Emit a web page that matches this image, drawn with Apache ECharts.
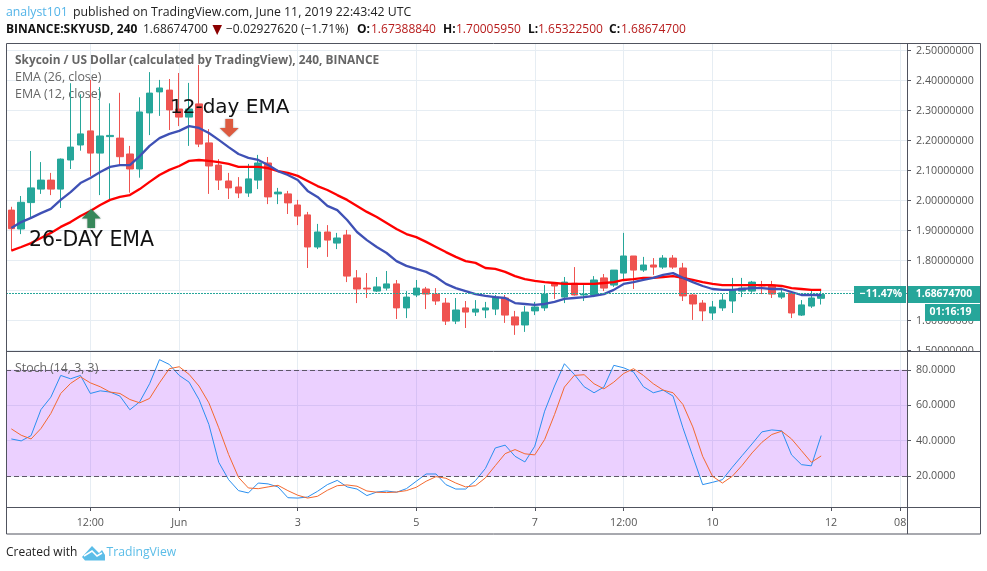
<!DOCTYPE html>
<html>
<head>
<meta charset="utf-8">
<title>SKYUSD</title>
<script src="https://cdn.jsdelivr.net/npm/echarts@6/dist/echarts.min.js"></script>
<style>
  html, body { margin: 0; padding: 0; background: #fff; }
  #chart { width: 987px; height: 571px; }
</style>
</head>
<body>
<div id="chart"></div>
<script>
// values, one entry per 4h bar
const opens = [1.968,1.905,1.993,2.038,2.068,2.038,2.135,2.185,2.232,2.158,2.213,2.208,2.155,2.105,2.292,2.362,2.368,2.305,2.278,2.322,2.192,2.118,2.065,2.045,2.025,2.068,2.125,2.022,2.022,1.985,1.952,1.845,1.895,1.858,1.885,1.742,1.708,1.698,1.708,1.722,1.642,1.685,1.705,1.688,1.658,1.598,1.642,1.628,1.635,1.638,1.675,1.612,1.585,1.632,1.642,1.724,1.678,1.724,1.685,1.685,1.742,1.718,1.758,1.815,1.768,1.785,1.778,1.808,1.775,1.685,1.658,1.625,1.642,1.665,1.698,1.698,1.72,1.718,1.678,1.692,1.618,1.648,1.6739];
const closes = [1.906,1.994,2.042,2.068,2.038,2.138,2.178,2.222,2.158,2.215,2.217,2.146,2.105,2.295,2.358,2.375,2.302,2.278,2.305,2.188,2.115,2.068,2.042,2.025,2.072,2.125,2.012,2.028,1.992,1.948,1.845,1.895,1.868,1.875,1.748,1.705,1.705,1.712,1.722,1.642,1.678,1.708,1.688,1.665,1.598,1.635,1.628,1.638,1.642,1.678,1.618,1.585,1.628,1.645,1.688,1.715,1.728,1.685,1.688,1.735,1.708,1.768,1.815,1.768,1.785,1.778,1.808,1.778,1.682,1.655,1.632,1.645,1.668,1.702,1.708,1.728,1.715,1.688,1.692,1.625,1.652,1.675,1.6867];
const lows = [1.833,1.888,1.941,2.022,2.018,1.975,2.105,2.166,2.082,2.018,1.998,2.118,2.026,2.076,2.218,2.282,2.235,2.248,2.182,2.178,2.022,2.035,2.005,2.008,2.012,2.038,1.988,1.988,1.955,1.918,1.775,1.838,1.812,1.838,1.728,1.658,1.675,1.695,1.7,1.605,1.608,1.678,1.638,1.652,1.585,1.588,1.575,1.615,1.608,1.618,1.592,1.552,1.562,1.618,1.632,1.672,1.658,1.683,1.665,1.678,1.698,1.712,1.735,1.705,1.762,1.752,1.772,1.772,1.665,1.602,1.598,1.602,1.632,1.625,1.678,1.692,1.688,1.675,1.672,1.608,1.615,1.642,1.6532];
const highs = [1.979,2.015,2.165,2.128,2.092,2.14,2.391,2.354,2.402,2.378,2.324,2.359,2.182,2.344,2.428,2.402,2.405,2.425,2.392,2.452,2.238,2.138,2.092,2.078,2.122,2.152,2.145,2.042,2.032,2.002,1.962,1.922,1.918,1.892,1.902,1.768,1.758,1.745,1.765,1.735,1.698,1.735,1.712,1.708,1.675,1.675,1.665,1.668,1.662,1.685,1.685,1.632,1.648,1.662,1.718,1.728,1.745,1.778,1.718,1.748,1.755,1.768,1.892,1.815,1.812,1.808,1.818,1.818,1.792,1.688,1.668,1.665,1.688,1.742,1.742,1.732,1.732,1.732,1.702,1.698,1.668,1.705,1.7001];

const ema12 = [1.908,1.928,1.942,1.958,1.972,2.002,2.028,2.058,2.075,2.095,2.112,2.118,2.118,2.148,2.182,2.208,2.222,2.232,2.248,2.242,2.225,2.202,2.178,2.155,2.142,2.135,2.118,2.098,2.085,2.068,2.032,2.012,1.982,1.968,1.935,1.895,1.868,1.845,1.825,1.798,1.782,1.772,1.762,1.745,1.722,1.708,1.698,1.688,1.682,1.678,1.675,1.658,1.655,1.652,1.655,1.662,1.672,1.675,1.678,1.682,1.688,1.702,1.722,1.728,1.735,1.742,1.752,1.758,1.742,1.728,1.715,1.705,1.702,1.702,1.705,1.708,1.708,1.705,1.705,1.695,1.685,1.685,1.685];
const ema26 = [1.833,1.845,1.858,1.875,1.892,1.912,1.928,1.948,1.965,1.985,2.002,2.012,2.018,2.038,2.062,2.085,2.102,2.115,2.132,2.135,2.132,2.128,2.122,2.112,2.112,2.112,2.108,2.098,2.092,2.082,2.065,2.048,2.035,2.018,2.002,1.982,1.962,1.945,1.925,1.905,1.888,1.878,1.862,1.845,1.828,1.812,1.798,1.792,1.775,1.772,1.762,1.748,1.738,1.732,1.728,1.725,1.722,1.722,1.722,1.722,1.725,1.728,1.735,1.738,1.742,1.742,1.745,1.748,1.742,1.735,1.728,1.722,1.718,1.718,1.718,1.718,1.718,1.718,1.715,1.708,1.705,1.702,1.702];

const stochK = [40.9,39.8,42.8,57.5,64.5,76.8,74.9,76.8,66.6,68.1,67.4,65.1,57.4,61.9,72.1,85.7,83,76.8,73,63.2,49.1,27.7,17.9,11.7,10.4,16,15.5,13.8,7.7,7.5,8.1,11.3,15.1,17.5,13.8,12.6,8.9,10.9,11.5,10.8,12.8,17,21.1,21.1,15.1,12.6,12.6,17.4,24.2,35.8,37.4,31.1,27.9,36.8,56.6,70.8,83.4,77.4,70.4,67,70.2,82.5,81.1,78.7,70.4,67,68.5,65.1,47.2,31.1,15.1,16.4,17.9,24.9,31.5,38.1,44.9,46,45.5,31.9,26.4,25.7,42.8];
const stochD = [46.6,43,40.9,46.8,55.3,66.6,72.3,76,72.6,70.4,67.4,66.6,63.2,61.3,63.8,72.6,80.6,81.7,77.4,70.8,61.3,47.2,32.1,19.2,13.2,12.8,13.8,14.7,11.7,9.1,7.5,8.5,11.9,14.5,14.9,14.2,11.5,10.8,10.6,10.9,11.7,13.6,17,19.6,18.7,16,13.8,14.5,18.9,25.8,32.6,34.9,32.5,31.9,40.6,54.7,70.2,76.8,77.2,72.1,69.2,73,77.9,80.6,76.8,72.1,68.5,67,60.4,47.7,31.1,19.8,16,19.8,26,33,39,43.4,45.3,40.9,34.3,27.7,31.3];

const lastPrice = 1.686747;
const priceTicks = [1.5,1.6,1.7,1.8,1.9,2.0,2.1,2.2,2.3,2.4,2.5];
const stochTicks = [20,40,60,80];
const timeTicks = [8,17,29,41,53,62,71,83,90];
const timeLabels = ['12:00','Jun','3','5','7','12:00','10','12','08'];

const candles = opens.map((o, i) => [i, o, closes[i], lows[i], highs[i]]);
const withIndex = arr => arr.map((v, i) => [i, v]);

const upColor = '#26a69a';
const downColor = '#ef5350';
const gridColor = '#e6edf3';
const frameColor = '#50535e';
const labelColor = '#555';
const ohlcColor = '#b71c1c';
const uiFont = '"Open Sans", "Noto Sans", sans-serif';

let chart = echarts.init(document.getElementById('chart'));

function txt(x, y, text, size, color, extra) {
  return {
    type: 'text', x: x, y: y, z: (extra && extra.z) || 60, silent: true,
    style: Object.assign({
      text: text, fontSize: size, fontFamily: uiFont, fill: color, textVerticalAlign: 'middle'
    }, extra)
  };
}
function box(x, y, w, h, color, z) {
  return { type: 'rect', z: z || 55, silent: true, shape: { x: x, y: y, width: w, height: h }, style: { fill: color } };
}
function rule(x1, y1, x2, y2) {
  return { type: 'line', z: 70, silent: true, shape: { x1: x1, y1: y1, x2: x2, y2: y2 }, style: { stroke: frameColor, lineWidth: 1 } };
}

let option = {
  animation: false,
  backgroundColor: '#fff',
  grid: [
    { left: 6.5, right: 80, top: 43, height: 308 },
    { left: 6.5, right: 80, top: 351, height: 156 }
  ],
  xAxis: [
    {
      type: 'value', gridIndex: 0, min: -0.49, max: 90.69,
      axisLine: { show: false, onZero: false },
      axisTick: { show: false, customValues: timeTicks },
      axisLabel: { show: false, customValues: timeTicks },
      splitLine: { show: true, lineStyle: { color: gridColor, width: 1 } }
    },
    {
      type: 'value', gridIndex: 1, min: -0.49, max: 90.69,
      axisLine: { show: false, onZero: false },
      axisTick: { show: true, length: 4, inside: false, customValues: timeTicks, lineStyle: { color: frameColor } },
      axisLabel: {
        show: true, customValues: timeTicks, margin: 10, color: labelColor, fontSize: 10.7, fontFamily: uiFont,
        showMinLabel: true, showMaxLabel: true, hideOverlap: false,
        formatter: v => timeLabels[timeTicks.indexOf(v)]
      },
      splitLine: { show: true, lineStyle: { color: gridColor, width: 1 } }
    }
  ],
  yAxis: [
    {
      type: 'value', gridIndex: 0, position: 'right', min: 1.4983, max: 2.525, scale: true,
      axisLine: { show: false, onZero: false },
      axisTick: { show: true, length: 4, customValues: priceTicks, lineStyle: { color: frameColor } },
      axisLabel: { customValues: priceTicks, margin: 9, color: labelColor, fontSize: 10.7, fontFamily: uiFont, formatter: v => v.toFixed(8) },
      splitLine: { show: true, lineStyle: { color: gridColor, width: 1 } }
    },
    {
      type: 'value', gridIndex: 1, position: 'right', min: 2.45, max: 90.6,
      axisLine: { show: false, onZero: false },
      axisTick: { show: true, length: 4, customValues: stochTicks, lineStyle: { color: frameColor } },
      axisLabel: { customValues: stochTicks, margin: 9, color: labelColor, fontSize: 10.7, fontFamily: uiFont, formatter: v => v.toFixed(4) },
      splitLine: { show: true, lineStyle: { color: gridColor, width: 1 } }
    }
  ],
  series: [
    {
      type: 'candlestick', name: 'SKYUSD', xAxisIndex: 0, yAxisIndex: 0,
      data: candles, barWidth: 7, encode: { x: 0, y: [1, 2, 3, 4] },
      itemStyle: { color: upColor, color0: downColor, borderColor: upColor, borderColor0: downColor, borderWidth: 1 },
      markLine: {
        silent: true, symbol: 'none', label: { show: false }, animation: false,
        lineStyle: { color: upColor, type: [2, 1], dashOffset: 0.5, width: 1 },
        data: [{ yAxis: lastPrice }]
      },
      markPoint: {
        silent: true, animation: false, label: { show: false },
        data: [
          { coord: [22.06, 2.2417], symbol: 'path://M6 0H14V10H20L10 20L0 10H6Z', symbolSize: [19, 18], itemStyle: { color: '#dd5a3f', shadowBlur: 2, shadowColor: 'rgba(0,0,0,.4)' } },
          { coord: [8.09, 1.94], symbol: 'path://M10 0L20 10H14V20H6V10H0Z', symbolSize: [19, 19], itemStyle: { color: '#37875a', shadowBlur: 2, shadowColor: 'rgba(0,0,0,.4)' } }
        ]
      }
    },
    {
      type: 'line', name: 'EMA 26', xAxisIndex: 0, yAxisIndex: 0, z: 3,
      data: withIndex(ema26), showSymbol: false, lineStyle: { color: '#ff0000', width: 2.3 }
    },
    {
      type: 'line', name: 'EMA 12', xAxisIndex: 0, yAxisIndex: 0, z: 3,
      data: withIndex(ema12), showSymbol: false, lineStyle: { color: '#3f51b5', width: 2.3 }
    },
    {
      type: 'line', name: '%K', xAxisIndex: 1, yAxisIndex: 1, z: 4,
      data: withIndex(stochK), showSymbol: false, lineStyle: { color: '#2a8ff0', width: 1 },
      markArea: {
        silent: true, animation: false,
        itemStyle: { color: 'rgba(153,21,255,0.2)' },
        data: [[{ yAxis: 20 }, { yAxis: 80 }]]
      },
      markLine: {
        silent: true, symbol: 'none', label: { show: false }, animation: false,
        lineStyle: { color: '#5d5668', type: [5, 3], dashOffset: 0.5, width: 1 },
        data: [{ yAxis: 20 }, { yAxis: 80 }]
      }
    },
    {
      type: 'line', name: '%D', xAxisIndex: 1, yAxisIndex: 1, z: 5,
      data: withIndex(stochD), showSymbol: false, lineStyle: { color: '#f4692f', width: 1 }
    }
  ],
  graphic: [
    // header
    txt(6, 12.5, 'analyst101', 12.3, '#53b4e8'),
    txt(73, 12.5, 'published on TradingView.com, June 11, 2019 22:43:42 UTC', 12.3, '#222'),
    txt(6, 30, 'BINANCE:SKYUSD, 240', 12, '#111', { fontWeight: 'bold' }),
    txt(143, 30, '1.68674700', 12, '#222'),
    { type: 'polygon', z: 60, silent: true, shape: { points: [[212.5, 25], [222, 25], [217.2, 35]] }, style: { fill: '#8b0000' } },
    txt(226, 30, '\u22120.02927620 (\u22121.71%)', 12, '#222'),
    txt(357, 30, 'O:', 12, '#111', { fontWeight: 'bold' }),
    txt(371, 30, '1.67388840', 12, ohlcColor),
    txt(443, 30, 'H:', 12, '#111', { fontWeight: 'bold' }),
    txt(456, 30, '1.70005950', 12, ohlcColor),
    txt(528, 30, 'L:', 12, '#111', { fontWeight: 'bold' }),
    txt(538, 30, '1.65322500', 12, ohlcColor),
    txt(609, 30, 'C:', 12, '#111', { fontWeight: 'bold' }),
    txt(621, 30, '1.68674700', 12, ohlcColor),

    // pane legends sit under the candles
    txt(15, 60.5, 'Skycoin / US Dollar (calculated by TradingView), 240, BINANCE', 11.87, '#666', { fontWeight: 'bold', z: 1 }),
    txt(15, 77.5, 'EMA (26, close)', 12.4, '#666', { z: 1 }),
    txt(15, 94.5, 'EMA (12, close)', 12.4, '#666', { z: 1 }),
    txt(15, 368, 'Stoch (14, 3, 3)', 12.3, '#666', { z: 6 }),

    // hand annotations
    txt(170, 108, '12-day EMA', 20, '#111', { fontFamily: '"DejaVu Sans", sans-serif', z: 65 }),
    txt(29, 241, '26-DAY EMA', 20.5, '#111', { fontFamily: '"DejaVu Sans", sans-serif', z: 65 }),

    // cut-off labels at the pane edges
    box(908, 352, 71, 10, '#fff', 50),
    box(908, 509, 71, 24, '#fff', 50),

    // price tags
    box(854, 286, 52, 17, upColor),
    box(907, 286, 73, 17, upColor),
    box(925, 304, 55, 17, upColor),
    txt(881, 294.5, '\u221211.47%', 10.5, '#fff', { fontWeight: 'bold', textAlign: 'center' }),
    txt(944, 294.5, '1.68674700', 10.4, '#fff', { fontWeight: 'bold', textAlign: 'center' }),
    txt(950.5, 312.5, '01:16:19', 10.5, '#fff', { fontWeight: 'bold', textAlign: 'center' }),

    // frame
    { type: 'rect', z: 70, silent: true, shape: { x: 6.5, y: 43.5, width: 974, height: 490.5 }, style: { fill: 'none', stroke: frameColor, lineWidth: 1 } },
    rule(6.5, 351.5, 980.5, 351.5),
    rule(6.5, 507.5, 980.5, 507.5),
    rule(907.5, 43.5, 907.5, 534),

    // footer
    txt(6, 553, 'Created with', 12, '#222'),
    { type: 'polygon', z: 60, silent: true, shape: { points: [[82, 557], [92, 546], [99, 553], [102, 550], [105, 555], [105, 560.5], [85, 560.5]] }, style: { fill: '#5bbde8' } },
    { type: 'polyline', z: 61, silent: true, shape: { points: [[84, 556], [92, 551], [97, 556], [102, 553]] }, style: { fill: 'none', stroke: '#fff', lineWidth: 1.5 } },
    txt(106.5, 553, 'TradingView', 12.2, '#5bbde8')
  ]
};

chart.setOption(option);
window.addEventListener('resize', () => {
  chart.resize();
});
</script>
</body>
</html>
